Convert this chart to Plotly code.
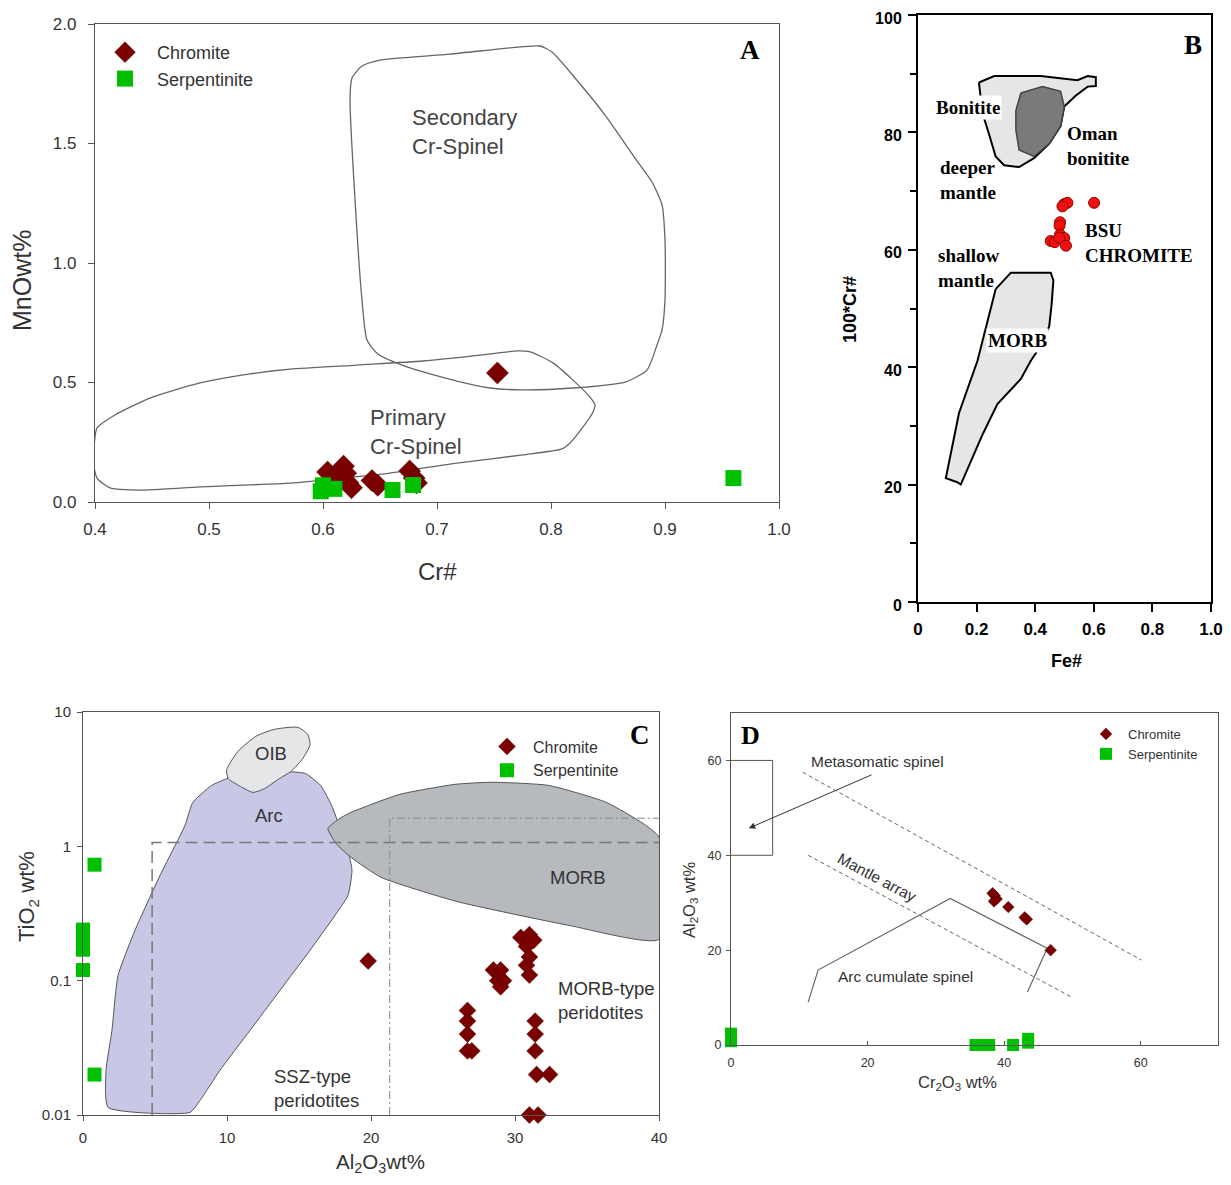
import numpy as np
import plotly.graph_objects as go

# page geometry: browser body keeps its default 8px margin, figure fills the rest
PAGE_W, PAGE_H, OFF = 1231, 1185, 8
FW, FH = PAGE_W - 2 * OFF, PAGE_H - 2 * OFF
SANS = "Liberation Sans, Arial, sans-serif"
SERIF = "Liberation Serif, Times New Roman, serif"
CHR = "#7a0000"
SERP = "#00c000"

# ---------------- Panel A : MnO vs Cr# ----------------
a_chr_cr = [0.604, 0.612, 0.618, 0.620, 0.622, 0.625, 0.643, 0.648, 0.676, 0.680, 0.682, 0.753]
a_chr_mno = [0.125, 0.10, 0.15, 0.12, 0.08, 0.06, 0.09, 0.07, 0.13, 0.10, 0.08, 0.54]
a_serp_cr = [0.598, 0.600, 0.610, 0.661, 0.679, 0.960]
a_serp_mno = [0.045, 0.07, 0.055, 0.05, 0.071, 0.10]

a_sec_x = [0.6237, 0.6254, 0.6342, 0.650, 0.7114, 0.7728, 0.7904, 0.8009, 0.8211, 0.8474, 0.8737, 0.8886,
           0.8974, 0.900, 0.900, 0.8974, 0.8930, 0.8842, 0.8649, 0.8193, 0.7754, 0.7465, 0.7175, 0.6737,
           0.6482, 0.6386, 0.6342, 0.6281, 0.6237]
a_sec_y = [1.682, 1.774, 1.824, 1.849, 1.874, 1.904, 1.908, 1.883, 1.774, 1.619, 1.439, 1.339,
           1.243, 1.096, 0.845, 0.720, 0.657, 0.552, 0.502, 0.477, 0.469, 0.477, 0.506, 0.565,
           0.619, 0.678, 0.845, 1.264, 1.682]
a_pri_x = [0.399, 0.4018, 0.4175, 0.4482, 0.4921, 0.5360, 0.5711, 0.6298, 0.6877, 0.7316, 0.7526, 0.7702,
           0.7816, 0.8018, 0.8193, 0.8342, 0.8386, 0.8368, 0.8281, 0.8167, 0.8096, 0.7754, 0.7175, 0.6588,
           0.6000, 0.5711, 0.4921, 0.4395, 0.4132, 0.4018, 0.3985, 0.399]
a_pri_y = [0.226, 0.310, 0.364, 0.435, 0.498, 0.536, 0.556, 0.573, 0.590, 0.611, 0.623, 0.632,
           0.628, 0.582, 0.510, 0.439, 0.406, 0.377, 0.314, 0.247, 0.222, 0.197, 0.163, 0.121,
           0.092, 0.079, 0.063, 0.050, 0.059, 0.100, 0.167, 0.226]
a_xticks = [0.4, 0.5, 0.6, 0.7, 0.8, 0.9, 1.0]
a_yticks = [0.0, 0.5, 1.0, 1.5, 2.0]

# ---------------- Panel B : 100*Cr# vs Fe# ----------------
b_fe = [0.499, 0.510, 0.493, 0.601, 0.485, 0.483, 0.485, 0.453, 0.467, 0.499, 0.505, 0.482]
b_cr = [67.8, 68.0, 67.4, 68.0, 64.7, 64.1, 62.6, 61.5, 61.3, 62.0, 60.7, 62.1]
b_bon_x = [0.208, 0.260, 0.419, 0.544, 0.579, 0.607, 0.607, 0.579, 0.539, 0.499, 0.487, 0.448,
           0.396, 0.345, 0.294, 0.265, 0.243, 0.220, 0.208]
b_bon_y = [88.5, 89.6, 89.6, 88.9, 89.6, 89.4, 87.9, 87.8, 86.3, 84.4, 81.1, 78.1,
           75.6, 74.1, 74.4, 75.9, 79.6, 83.3, 88.5]
b_oman_x = [0.351, 0.425, 0.487, 0.499, 0.487, 0.448, 0.396, 0.345, 0.334, 0.334, 0.351]
b_oman_y = [86.7, 87.8, 87.0, 84.4, 81.1, 78.1, 75.9, 77.0, 80.4, 83.7, 86.7]
b_morb_x = [0.265, 0.317, 0.453, 0.462, 0.456, 0.448, 0.425, 0.385, 0.351, 0.271, 0.220, 0.146,
            0.134, 0.095, 0.140, 0.203, 0.265]
b_morb_y = [53.3, 56.1, 56.1, 54.8, 50.7, 47.0, 44.1, 41.1, 38.0, 33.7, 28.5, 20.0,
            20.4, 21.1, 32.2, 41.1, 53.3]
b_xticks = [0, 0.2, 0.4, 0.6, 0.8, 1.0]
b_xticktext = ["0", "0.2", "0.4", "0.6", "0.8", "1.0"]
b_yticks = [0, 20, 40, 60, 80, 100]

# ---------------- Panel C : TiO2 vs Al2O3 ----------------
c_chr_al = [19.8, 26.7, 26.7, 26.7, 26.7, 27.0, 28.5, 29.0, 28.8, 29.2, 29.0, 30.4, 31.0, 30.8, 31.0,
            30.8, 31.0, 31.3, 31.4, 31.4, 31.4, 31.5, 32.4, 31.0, 31.6]
c_chr_ti = [0.14, 0.06, 0.05, 0.04, 0.03, 0.03, 0.12, 0.12, 0.10, 0.10, 0.09, 0.21, 0.22, 0.18, 0.15,
            0.13, 0.11, 0.20, 0.05, 0.04, 0.03, 0.02, 0.02, 0.01, 0.01]
c_serp_al = [0.8, 0.0, 0.0, 0.0, 0.0, 0.8]
c_serp_ti = [0.73, 0.24, 0.20, 0.17, 0.12, 0.02]

c_arc_x = [1.74, 1.60, 2.01, 2.43, 3.61, 5.35, 7.08, 7.62, 8.93, 9.9, 11.0, 12.5, 14.41, 15.46, 16.5,
           17.28, 17.8, 18.4, 18.68, 18.4, 17.5, 15.76, 13.68, 11.6, 9.51, 8.13, 7.43, 1.74]
c_arc_y = [0.0114, 0.0215, 0.0427, 0.109, 0.237, 0.608, 1.43, 2.12, 2.84, 3.16, 3.4, 3.5, 3.59, 3.48, 2.84,
           2.0, 1.41, 0.934, 0.662, 0.431, 0.306, 0.168, 0.0847, 0.0427, 0.0215, 0.01285, 0.01046, 0.0114]
c_oib_x = [9.97, 10.76, 12.06, 13.37, 14.93, 15.59, 15.77, 15.20, 14.41, 13.63, 12.58, 11.80, 11.02, 10.10, 9.97]
c_oib_y = [3.69, 5.09, 6.64, 7.46, 7.68, 6.84, 5.73, 4.41, 3.59, 3.19, 2.68, 2.52, 2.76, 3.19, 3.69]
c_morb_x = [17.01, 17.85, 18.61, 22.01, 25.90, 28.47, 32.36, 36.32, 38.89, 40.0, 40.0, 33.75, 25.90,
            20.69, 18.61, 17.57, 17.01]
c_morb_y = [1.36, 1.616, 1.79, 2.44, 2.90, 3.00, 2.84, 2.13, 1.48, 1.17, 0.203, 0.258, 0.390,
            0.588, 0.828, 1.05, 1.36]
c_ssz_x = [4.8, 4.8, 40.0]
c_ssz_y = [0.01, 1.07, 1.07]
c_morbbox_x = [21.3, 21.3, 40.0]
c_morbbox_y = [0.01, 1.62, 1.62]
c_xticks = [0, 10, 20, 30, 40]
c_yticks = [0.01, 0.1, 1, 10]
c_yticktext = ["0.01", "0.1", "1", "10"]

# ---------------- Panel D : Al2O3 vs Cr2O3 ----------------
d_chr_cr = [38.3, 38.6, 38.9, 38.5, 40.6, 43.0, 43.3, 46.8]
d_chr_al = [32.0, 31.5, 30.8, 30.3, 29.1, 26.9, 26.5, 20.0]
d_serp_cr = [0.0, 0.0, 35.8, 36.8, 37.8, 41.3, 43.5, 43.5]
d_serp_al = [2.4, 0.8, 0.0, 0.0, 0.0, 0.0, 0.5, 1.3]
d_meta_x = [0, 6.1, 6.1, 0]
d_meta_y = [60, 60, 40, 40]
d_upper_x = [10.5, 60.1]
d_upper_y = [57.5, 17.9]
d_mantle_x = [11.3, 50.1]
d_mantle_y = [40.0, 9.9]
d_arc_x = [11.3, 12.75, 32.1, 46.3, 43.4]
d_arc_y = [9.05, 15.8, 30.9, 20.4, 11.2]
d_ticks = [0, 20, 40, 60]


def dom_x(l, r):
    return [(l - OFF) / FW, (r - OFF) / FW]


def dom_y(t, b):
    return [1 - (b - OFF) / FH, 1 - (t - OFF) / FH]


def PX(x):
    return (x - OFF) / FW


def PY(y):
    return 1 - (y - OFF) / FH


def P(x, y):
    return dict(x=PX(x), y=PY(y), xref="paper", yref="paper", xanchor="center", yanchor="middle")


fig = go.Figure()

# ---- A traces
fig.add_trace(go.Scatter(x=a_sec_x, y=a_sec_y, mode="lines", line=dict(color="#666", width=1.3, shape="spline", smoothing=0.6),
                         showlegend=False, xaxis="x", yaxis="y", hoverinfo="skip"))
fig.add_trace(go.Scatter(x=a_pri_x, y=a_pri_y, mode="lines", line=dict(color="#666", width=1.3, shape="spline", smoothing=0.6),
                         showlegend=False, xaxis="x", yaxis="y", hoverinfo="skip", cliponaxis=False))
fig.add_trace(go.Scatter(x=a_chr_cr, y=a_chr_mno, mode="markers", name="Chromite", legend="legend",
                         marker=dict(symbol="diamond", size=17, color=CHR, line=dict(color="#5a0000", width=0.5)),
                         xaxis="x", yaxis="y", cliponaxis=False))
fig.add_trace(go.Scatter(x=a_serp_cr, y=a_serp_mno, mode="markers", name="Serpentinite", legend="legend",
                         marker=dict(symbol="square", size=16, color=SERP, line=dict(width=0)),
                         xaxis="x", yaxis="y", cliponaxis=False))

# ---- B traces
fig.add_trace(go.Scatter(x=b_bon_x, y=b_bon_y, mode="lines", fill="toself", fillcolor="#e6e6e6",
                         line=dict(color="black", width=2), showlegend=False, xaxis="x2", yaxis="y2", hoverinfo="skip"))
fig.add_trace(go.Scatter(x=b_oman_x, y=b_oman_y, mode="lines", fill="toself", fillcolor="#7a7a7a",
                         line=dict(color="#444", width=1.5), showlegend=False, xaxis="x2", yaxis="y2", hoverinfo="skip"))
fig.add_trace(go.Scatter(x=b_morb_x, y=b_morb_y, mode="lines", fill="toself", fillcolor="#e6e6e6",
                         line=dict(color="black", width=2), showlegend=False, xaxis="x2", yaxis="y2", hoverinfo="skip"))
fig.add_trace(go.Scatter(x=b_fe, y=b_cr, mode="markers", showlegend=False,
                         marker=dict(symbol="circle", size=11, color="#ee1111", line=dict(color="#990000", width=1)),
                         xaxis="x2", yaxis="y2"))

# ---- C traces
fig.add_trace(go.Scatter(x=c_arc_x, y=c_arc_y, mode="lines", fill="toself", fillcolor="#c8c8e6",
                         line=dict(color="#555", width=1, shape="spline", smoothing=0.5),
                         showlegend=False, xaxis="x3", yaxis="y3", hoverinfo="skip"))
fig.add_trace(go.Scatter(x=c_morb_x, y=c_morb_y, mode="lines", fill="toself", fillcolor="#b6b9bd",
                         line=dict(color="#555", width=1, shape="spline", smoothing=0.5),
                         showlegend=False, xaxis="x3", yaxis="y3", hoverinfo="skip"))
fig.add_trace(go.Scatter(x=c_oib_x, y=c_oib_y, mode="lines", fill="toself", fillcolor="#e4e6e8",
                         line=dict(color="#555", width=1, shape="spline", smoothing=0.6),
                         showlegend=False, xaxis="x3", yaxis="y3", hoverinfo="skip"))
fig.add_trace(go.Scatter(x=c_ssz_x, y=c_ssz_y, mode="lines", line=dict(color="#777", width=1.5, dash="12px,6px"),
                         showlegend=False, xaxis="x3", yaxis="y3", hoverinfo="skip"))
fig.add_trace(go.Scatter(x=c_morbbox_x, y=c_morbbox_y, mode="lines", line=dict(color="#888", width=1, dash="8px,3px,2px,3px"),
                         showlegend=False, xaxis="x3", yaxis="y3", hoverinfo="skip"))
fig.add_trace(go.Scatter(x=c_chr_al, y=c_chr_ti, mode="markers", name="Chromite", legend="legend2",
                         marker=dict(symbol="diamond", size=13, color=CHR, line=dict(color="#5a0000", width=0.5)),
                         xaxis="x3", yaxis="y3", cliponaxis=False))
fig.add_trace(go.Scatter(x=c_serp_al, y=c_serp_ti, mode="markers", name="Serpentinite", legend="legend2",
                         marker=dict(symbol="square", size=14, color=SERP, line=dict(width=0)),
                         xaxis="x3", yaxis="y3", cliponaxis=False))

# ---- D traces
fig.add_trace(go.Scatter(x=d_meta_x, y=d_meta_y, mode="lines", line=dict(color="#555", width=1),
                         showlegend=False, xaxis="x4", yaxis="y4", hoverinfo="skip"))
fig.add_trace(go.Scatter(x=d_upper_x, y=d_upper_y, mode="lines", line=dict(color="#666", width=1, dash="4px,3px"),
                         showlegend=False, xaxis="x4", yaxis="y4", hoverinfo="skip"))
fig.add_trace(go.Scatter(x=d_mantle_x, y=d_mantle_y, mode="lines", line=dict(color="#666", width=1, dash="4px,3px"),
                         showlegend=False, xaxis="x4", yaxis="y4", hoverinfo="skip"))
fig.add_trace(go.Scatter(x=d_arc_x, y=d_arc_y, mode="lines", line=dict(color="#666", width=1.2),
                         showlegend=False, xaxis="x4", yaxis="y4", hoverinfo="skip"))
fig.add_trace(go.Scatter(x=d_chr_cr, y=d_chr_al, mode="markers", name="Chromite", legend="legend3",
                         marker=dict(symbol="diamond", size=9, color=CHR, line=dict(color="#5a0000", width=0.5)),
                         xaxis="x4", yaxis="y4", cliponaxis=False))
fig.add_trace(go.Scatter(x=d_serp_cr, y=d_serp_al, mode="markers", name="Serpentinite", legend="legend3",
                         marker=dict(symbol="square", size=12, color=SERP, line=dict(width=0)),
                         xaxis="x4", yaxis="y4", cliponaxis=False))

thin = dict(showgrid=False, zeroline=False, showline=True, mirror=True, ticks="outside",
            ticklabeloverflow="allow", automargin=False)

annotations = []
# ---- A text
annotations += [
    dict(x=0.676, y=1.548, xref="x", yref="y", text="Secondary<br>Cr-Spinel", showarrow=False, xanchor="left",
         align="left", font=dict(family=SANS, size=22, color="#444")),
    dict(x=0.6395, y=0.293, xref="x", yref="y", text="Primary<br>Cr-Spinel", showarrow=False, xanchor="left",
         align="left", font=dict(family=SANS, size=22, color="#444")),
    dict(x=0.9746, y=1.891, xref="x", yref="y", text="<b>A</b>", showarrow=False,
         font=dict(family=SERIF, size=27, color="black")),
    dict(**P(437, 571), text="Cr#", showarrow=False, font=dict(family=SANS, size=24, color="#333")),
    dict(**P(22, 281), text="MnOwt%", showarrow=False, textangle=-90, font=dict(family=SANS, size=25, color="#333")),
]
# ---- B text
bfont = dict(family=SERIF, size=19, color="black")
annotations += [
    dict(x=0.171, y=84.2, xref="x2", yref="y2", text="<b>Bonitite</b>", showarrow=False, bgcolor="white",
         borderpad=1, font=bfont),
    dict(x=0.502, y=77.7, xref="x2", yref="y2", text="<b>Oman<br>bonitite</b>", showarrow=False, xanchor="left",
         align="left", font=bfont),
    dict(x=0.068, y=71.9, xref="x2", yref="y2", text="<b>deeper<br>mantle</b>", showarrow=False, xanchor="left",
         align="left", font=bfont),
    dict(x=0.061, y=56.9, xref="x2", yref="y2", text="<b>shallow<br>mantle</b>", showarrow=False, xanchor="left",
         align="left", font=bfont),
    dict(x=0.563, y=61.2, xref="x2", yref="y2", text="<b>BSU<br>CHROMITE</b>", showarrow=False, xanchor="left",
         align="left", font=bfont),
    dict(x=0.341, y=44.5, xref="x2", yref="y2", text="<b>MORB</b>", showarrow=False, bgcolor="white",
         borderpad=1, font=bfont),
    dict(x=0.939, y=94.9, xref="x2", yref="y2", text="<b>B</b>", showarrow=False,
         font=dict(family=SERIF, size=27, color="black")),
    dict(**P(1066, 661), text="<b>Fe#</b>", showarrow=False, font=dict(family=SANS, size=18, color="black")),
    dict(**P(850, 310), text="<b>100*Cr#</b>", showarrow=False, textangle=-90,
         font=dict(family=SANS, size=18, color="black")),
]
# ---- C text
cfont = dict(family=SANS, size=18.5, color="#333")
annotations += [
    dict(x=13.06, y=np.log10(4.93), xref="x3", yref="y3", text="OIB", showarrow=False, font=cfont),
    dict(x=12.92, y=np.log10(1.70), xref="x3", yref="y3", text="Arc", showarrow=False, font=cfont),
    dict(x=34.38, y=np.log10(0.588), xref="x3", yref="y3", text="MORB", showarrow=False, font=cfont),
    dict(x=32.85, y=np.log10(0.0713), xref="x3", yref="y3", text="MORB-type<br>peridotites", showarrow=False,
         xanchor="left", align="left", font=cfont),
    dict(x=13.13, y=np.log10(0.01578), xref="x3", yref="y3", text="SSZ-type<br>peridotites", showarrow=False,
         xanchor="left", align="left", font=cfont),
    dict(x=38.68, y=np.log10(6.71), xref="x3", yref="y3", text="<b>C</b>", showarrow=False,
         font=dict(family=SERIF, size=27, color="black")),
    dict(**P(380, 1163), text="Al<sub>2</sub>O<sub>3</sub>wt%", showarrow=False,
         font=dict(family=SANS, size=20.5, color="#333")),
    dict(**P(28, 897), text="TiO<sub>2</sub> wt%", showarrow=False, textangle=-90,
         font=dict(family=SANS, size=22, color="#333")),
]
# ---- D text
dfont = dict(family=SANS, size=15.5, color="#333")
annotations += [
    dict(x=21.4, y=59.8, xref="x4", yref="y4", text="Metasomatic spinel", showarrow=False, font=dfont),
    dict(x=21.4, y=35.4, xref="x4", yref="y4", text="Mantle array", showarrow=False, textangle=28, font=dfont),
    dict(x=25.5, y=14.5, xref="x4", yref="y4", text="Arc cumulate spinel", showarrow=False, font=dfont),
    dict(x=2.8, y=65.3, xref="x4", yref="y4", text="<b>D</b>", showarrow=False,
         font=dict(family=SERIF, size=26, color="black")),
    dict(x=2.6, y=45.7, xref="x4", yref="y4", ax=20.8, ay=57.1, axref="x4", ayref="y4", text="",
         showarrow=True, arrowhead=2, arrowsize=1.3, arrowwidth=1, arrowcolor="#333"),
    dict(**P(957, 1083), text="Cr<sub>2</sub>O<sub>3</sub> wt%", showarrow=False,
         font=dict(family=SANS, size=16.5, color="#333")),
    dict(**P(690, 900), text="Al<sub>2</sub>O<sub>3</sub> wt%", showarrow=False, textangle=-90,
         font=dict(family=SANS, size=16.5, color="#333")),
]

fig.update_layout(
    width=FW, height=FH, margin=dict(l=0, r=0, t=0, b=0, autoexpand=False),
    paper_bgcolor="white", plot_bgcolor="rgba(0,0,0,0)",
    showlegend=True,
    annotations=annotations,
    xaxis=dict(domain=dom_x(95, 779), anchor="y", range=[0.4, 1.0], tickvals=a_xticks, tickformat=".1f",
               linecolor="#555", linewidth=1.2, ticklen=6, tickcolor="#555", ticklabelstandoff=5,
               tickfont=dict(family=SANS, size=17, color="#333"), **thin),
    yaxis=dict(domain=dom_y(24, 502), anchor="x", range=[0, 2.0], tickvals=a_yticks, tickformat=".1f",
               linecolor="#555", linewidth=1.2, ticklen=6, tickcolor="#555", ticklabelstandoff=8,
               tickfont=dict(family=SANS, size=17, color="#333"), **thin),
    xaxis2=dict(domain=dom_x(918, 1211), anchor="y2", range=[0, 1.0], tickvals=b_xticks, ticktext=b_xticktext,
                linecolor="black", linewidth=2, ticklen=8, tickwidth=2, tickcolor="black", ticklabelstandoff=3,
                tickfont=dict(family=SANS, size=17, color="black", weight="bold"), **thin),
    yaxis2=dict(domain=dom_y(15, 602), anchor="x2", range=[0, 100], tickvals=b_yticks,
                linecolor="black", linewidth=2, ticklen=8, tickwidth=2, tickcolor="black", ticklabelstandoff=3,
                ticklabelshift=3,
                minor=dict(dtick=10, ticklen=6, tickwidth=2, tickcolor="black", ticks="outside"),
                tickfont=dict(family=SANS, size=16, color="black", weight="bold"), **thin),
    xaxis3=dict(domain=dom_x(83, 659), anchor="y3", range=[0, 40], tickvals=c_xticks,
                linecolor="#555", linewidth=1, ticklen=5, tickcolor="#555", ticklabelstandoff=4,
                tickfont=dict(family=SANS, size=15, color="#333"), **thin),
    yaxis3=dict(domain=dom_y(712, 1115), anchor="x3", type="log", range=[-2, 1], tickvals=c_yticks,
                ticktext=c_yticktext, linecolor="#555", linewidth=1, ticklen=5, tickcolor="#555",
                ticklabelstandoff=3, tickfont=dict(family=SANS, size=15, color="#333"), **thin),
    xaxis4=dict(domain=dom_x(731, 1218), anchor="y4", range=[0, 71.3], tickvals=d_ticks,
                showgrid=False, zeroline=False, showline=True, mirror=True, ticks="inside",
                ticklabeloverflow="allow", automargin=False,
                linecolor="#555", linewidth=1, ticklen=4, tickcolor="#555", ticklabelstandoff=6,
                tickfont=dict(family=SANS, size=12.5, color="#333")),
    yaxis4=dict(domain=dom_y(713, 1045), anchor="x4", range=[0, 70], tickvals=d_ticks,
                linecolor="#555", linewidth=1, ticklen=4, tickcolor="#555", ticklabelstandoff=2,
                tickfont=dict(family=SANS, size=12.5, color="#333"), **thin),
    legend=dict(x=PX(93), y=PY(34), xanchor="left", yanchor="top", bgcolor="rgba(0,0,0,0)",
                font=dict(family=SANS, size=18, color="#333"), itemsizing="trace", itemwidth=54,
                tracegroupgap=0),
    legend2=dict(x=PX(481), y=PY(729.5), xanchor="left", yanchor="top", bgcolor="rgba(0,0,0,0)",
                 font=dict(family=SANS, size=16, color="#333"), itemsizing="trace", itemwidth=42,
                 tracegroupgap=0),
    legend3=dict(x=PX(1084), y=PY(719), xanchor="left", yanchor="top", bgcolor="rgba(0,0,0,0)",
                 font=dict(family=SANS, size=13, color="#333"), itemsizing="trace", itemwidth=34,
                 tracegroupgap=0),
)

fig.write_html("out.html", include_plotlyjs=True, config={"displayModeBar": False})
